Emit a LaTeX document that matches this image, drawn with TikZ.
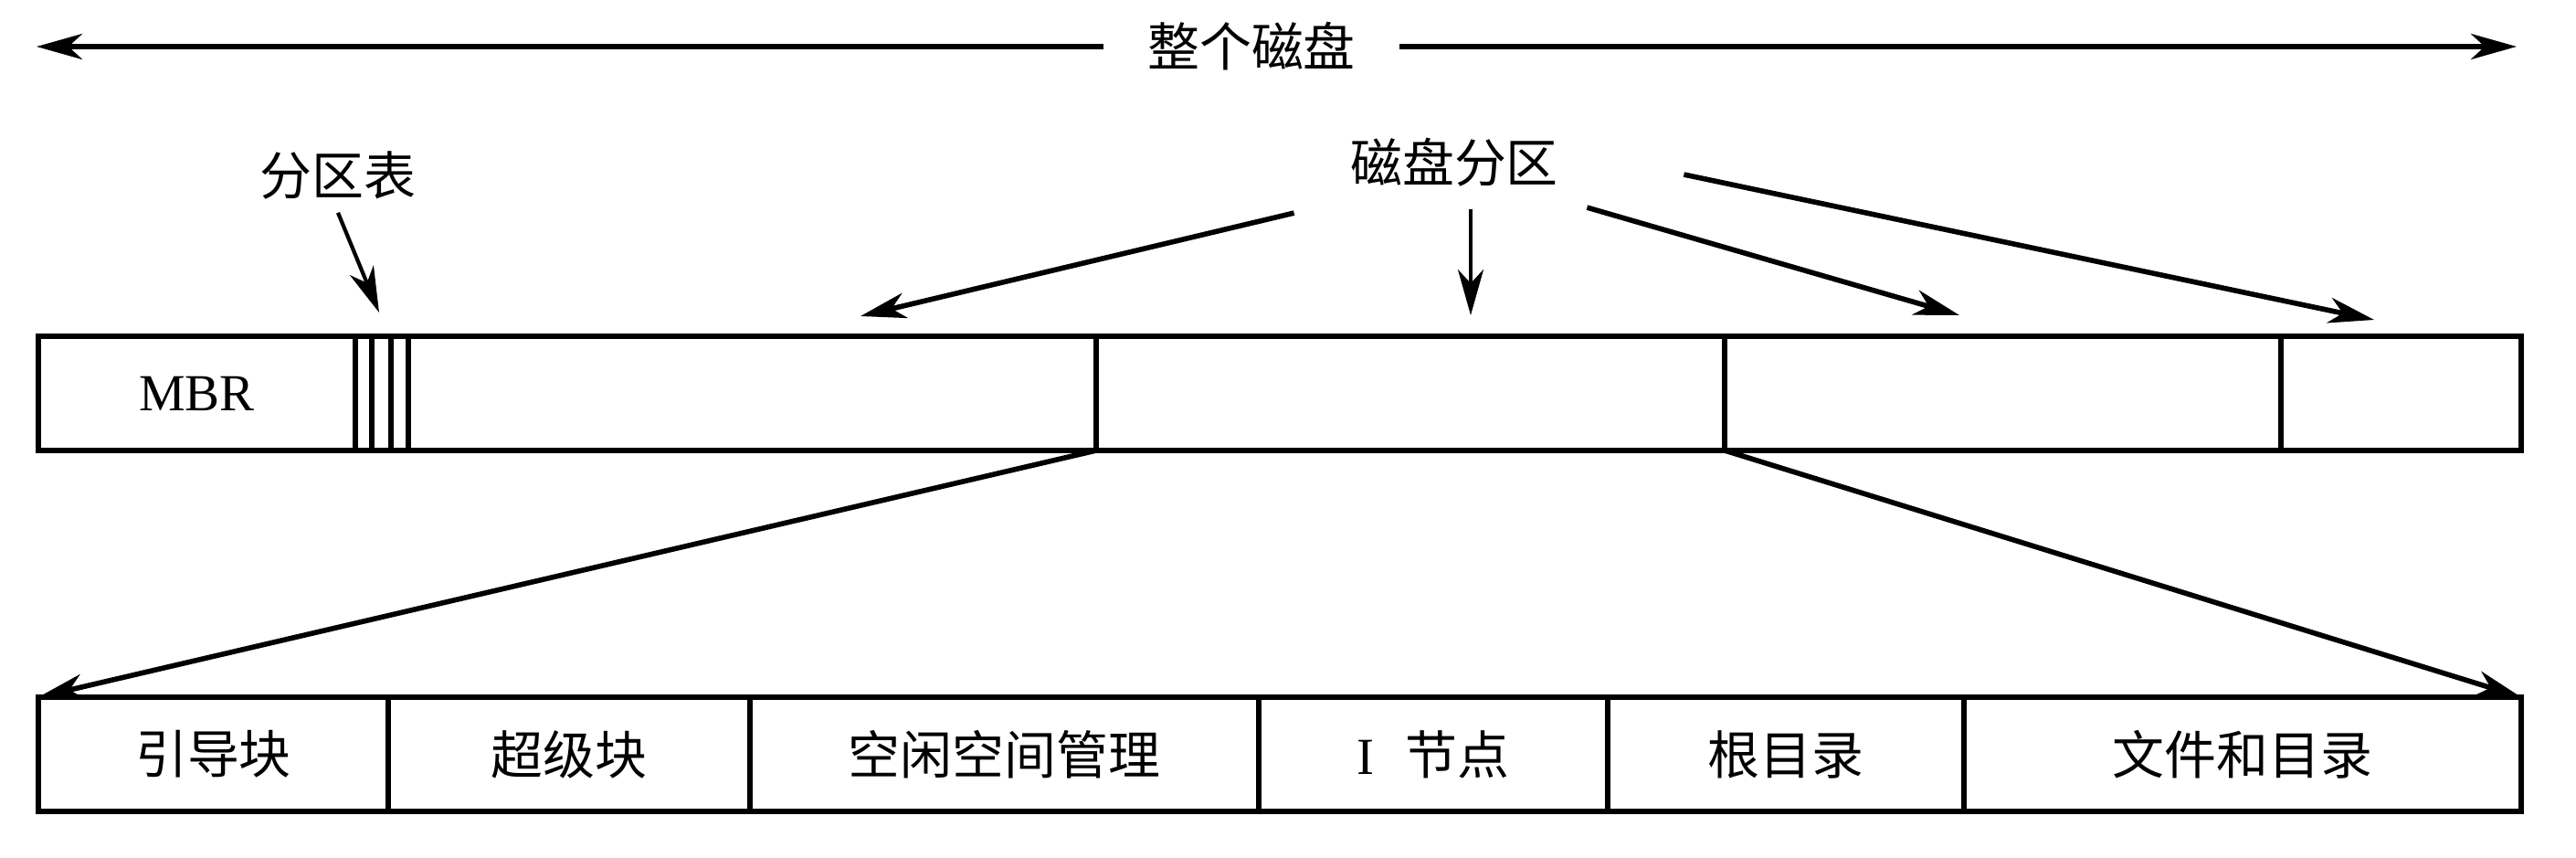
\documentclass[tikz,border=0pt]{standalone}
\usepackage{fontspec}
\setmainfont{Liberation Serif}
\newfontfamily\cjk{Noto Sans CJK SC}
\usetikzlibrary{positioning, arrows.meta}

\begin{document}
\begin{tikzpicture}[ node distance = 0pt
                     , font = \fontsize{16.2pt}{19pt}\selectfont
                     , line width = 1.6pt
                     , >={Stealth[length=0.5cm, width=0.28cm, inset=0.15cm]}
                     , cell/.style = { rectangle
                                     , draw = black
                                     , outer sep = 0pt
                                     , inner sep = 0pt
                                     , minimum height = 1.25cm }
                     ]
  \useasboundingbox (0,0) rectangle (28.2,-9.38);

  % whole disk
  \node (mbr) [cell, anchor = north west, minimum width = 3.47cm] at (0.42,-3.68) {MBR};
  \node (pta) [cell, right = of mbr, minimum width = 0.18cm] {};
  \node (ptb) [cell, right = of pta, minimum width = 0.21cm] {};
  \node (ptc) [cell, right = of ptb, minimum width = 0.19cm] {};
  \node (parta) [cell, right = of ptc, minimum width = 7.53cm] {};
  \node (partb) [cell, right = of parta, minimum width = 6.88cm] {};
  \node (partc) [cell, right = of partb, minimum width = 6.09cm] {};
  \node (partd) [cell, right = of partc, minimum width = 2.63cm] {};

  % one partition
  \node (boot) [cell, anchor = north west, minimum width = 3.83cm] at (0.42,-7.63) {\cjk 引导块};
  \node (super) [cell, right = of boot, minimum width = 3.96cm] {\cjk 超级块};
  \node (free) [cell, right = of super, minimum width = 5.57cm] {\cjk 空闲空间管理};
  \node (inode) [cell, right = of free, minimum width = 3.82cm] {I\hspace{0.6em}{\cjk 节点}};
  \node (root) [cell, right = of inode, minimum width = 3.90cm] {\cjk 根目录};
  \node (files) [cell, right = of root, minimum width = 6.10cm] {\cjk 文件和目录};

  \node (whole) [inner xsep = 0.45cm] at (13.70,-0.51) {\cjk 整个磁盘};
  \coordinate (wholeleft) at (0.40,-0.51);
  \coordinate (wholeright) at (27.55,-0.51);
  \draw[->] (whole) -- (wholeleft);
  \draw[->] (whole) -- (wholeright);

  \node (ptlabel) at (3.70,-1.92) {\cjk 分区表};
  \coordinate (pttip) at (4.15,-3.42);
  \draw[->, line width = 1.2pt] (ptlabel.south) -- (pttip);

  \node (dplabel) at (15.92,-1.78) {\cjk 磁盘分区};
  \coordinate (tipa) at (9.42,-3.46);
  \coordinate (tipb) at (16.10,-3.45);
  \coordinate (tipc) at (21.45,-3.45);
  \coordinate (tipd) at (25.99,-3.50);
  \draw[->] ([shift={(-0.47,-0.14)}]dplabel.south west) -- (tipa);
  \draw[->, line width = 1.2pt] ([yshift=-0.1cm]dplabel.south -| tipb) -- (tipb);
  \draw[->] ([shift={(0.17,-0.08)}]dplabel.south east) -- (tipc);
  \draw[->] ([shift={(1.23,-0.13)}]dplabel.east) -- (tipd);

  \draw[->] (parta.south east) -- (boot.north west);
  \draw[->] (partb.south east) -- (files.north east);

\end{tikzpicture}
\end{document}
